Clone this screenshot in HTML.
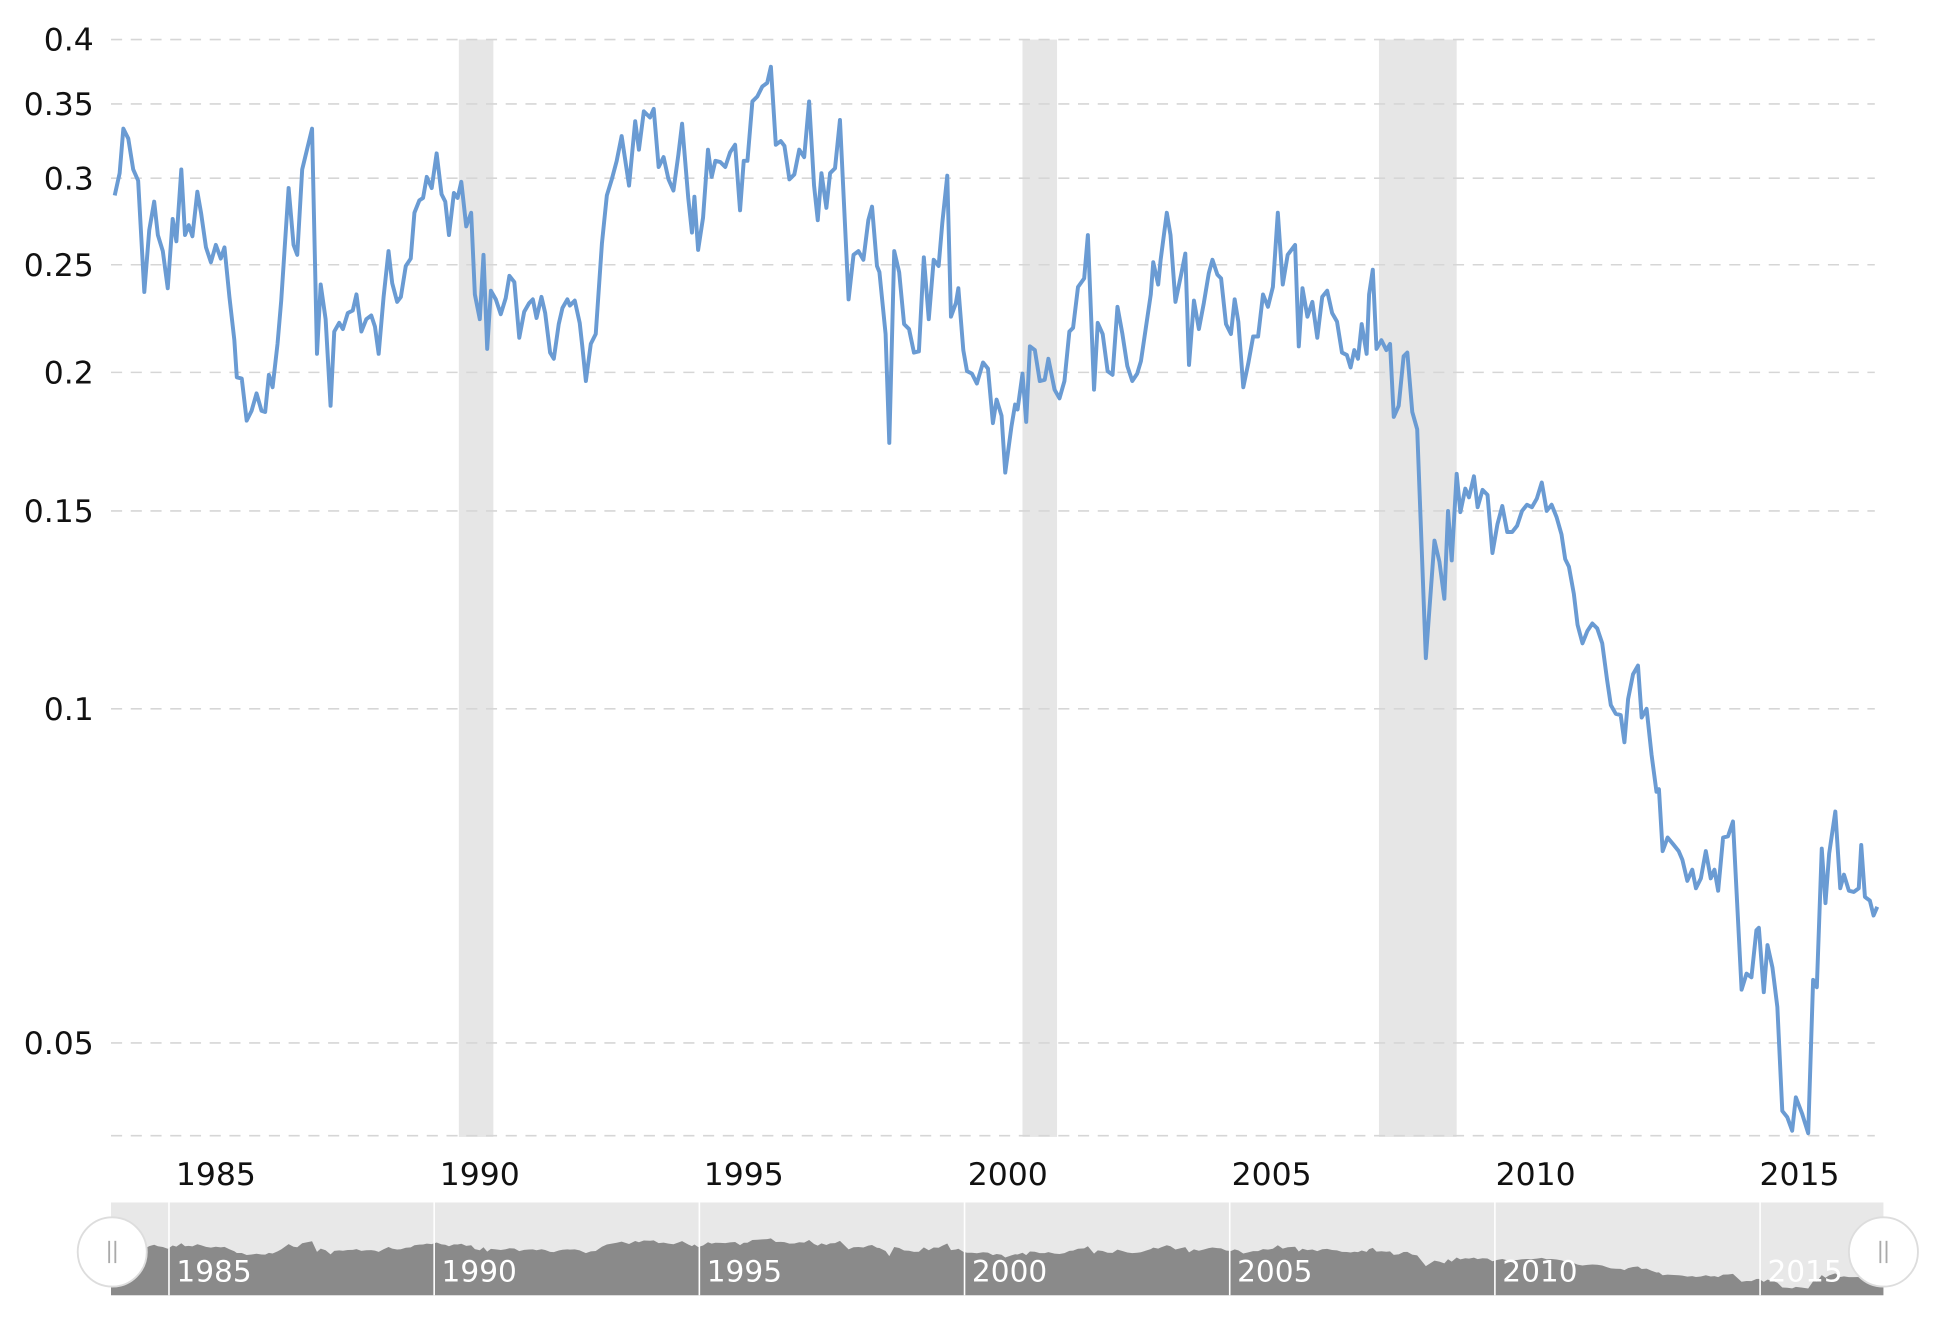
<!DOCTYPE html>
<html><head><meta charset="utf-8"><style>
html,body{margin:0;padding:0;background:#fff;}
svg{display:block;}
text{font-family:"DejaVu Sans","Liberation Sans",sans-serif;}
</style></head><body>
<svg width="1934" height="1320" viewBox="0 0 1568 1067" preserveAspectRatio="none" xmlns="http://www.w3.org/2000/svg">
<defs>
<polyline id="s" points="93,158 97,140 100,104 104,112 108,137 112,146 117,236 121,186 125,163 128,190 132,203 136,233 140,177 143,195 147,137 150,190 153,182 156,191 160,155 163,172 167,200 171,212 175,198 179,209 182,200 186,240 190,275 192,305 196,306 200,340 204,332 208,318 212,332 215,333 218,303 221,313 225,278 228,243 234,152 238,198 241,206 245,137 253,104 257,286 260,230 264,258 268,328 271,268 275,261 278,266 282,253 286,251 289,238 293,268 297,258 301,255 304,264 307,286 311,240 315,203 318,229 322,244 325,240 329,215 333,209 336,172 340,162 343,160 346,143 350,152 354,124 358,157 361,163 364,190 368,156 371,160 374,147 378,183 382,172 385,238 389,258 392,206 395,282 398,235 402,242 406,254 410,241 413,223 417,228 421,273 425,252 429,245 432,242 435,257 439,240 442,253 446,285 449,290 453,262 456,249 460,242 462,247 466,243 470,261 472,279 475,308 479,278 483,270 488,197 492,158 496,145 500,130 504,110 510,150 515,98 518,121 522,90 527,95 530,88 534,135 538,127 542,145 546,154 550,125 553,100 558,160 561,188 563,159 566,202 570,176 574,121 577,143 580,130 584,131 588,135 592,123 596,117 600,170 603,130 606,130 610,82 614,78 618,70 622,67 625,54 629,117 633,114 636,118 640,145 644,141 648,121 652,127 656,82 660,150 663,178 666,140 670,168 673,140 677,136 681,97 688,242 692,206 696,203 700,210 704,178 707,167 711,215 713,220 718,270 721,358 725,203 729,220 733,262 737,266 741,285 745,284 749,208 753,258 757,210 761,215 764,180 768,142 771,256 775,245 777,233 781,283 784,300 788,302 792,310 797,293 801,298 805,342 808,323 812,336 815,382 820,345 823,327 825,331 829,302 832,341 835,280 839,283 843,308 847,307 850,290 855,315 859,322 863,308 867,268 870,265 874,232 879,225 882,190 887,315 890,261 894,270 898,300 902,303 906,248 910,270 914,296 918,308 922,302 925,292 929,265 933,238 935,212 939,230 941,210 946,172 949,190 953,244 958,220 961,205 964,295 968,243 972,266 976,245 980,221 983,210 987,222 990,225 994,262 998,270 1001,242 1004,260 1008,313 1012,294 1016,272 1020,272 1024,238 1028,248 1032,232 1036,172 1040,230 1044,206 1050,198 1053,280 1056,233 1060,256 1064,244 1068,273 1072,240 1076,235 1080,253 1084,260 1088,285 1092,287 1095,297 1098,283 1101,290 1104,262 1108,286 1110,238 1113,218 1116,282 1120,275 1124,283 1127,278 1130,337 1134,328 1138,288 1141,285 1145,333 1149,347 1156,532 1163,437 1167,454 1171,484 1174,413 1177,453 1181,383 1184,414 1188,395 1191,402 1195,385 1198,410 1202,396 1206,400 1210,447 1214,424 1218,409 1222,430 1226,430 1230,425 1234,413 1238,408 1242,410 1246,403 1250,390 1254,413 1258,408 1262,418 1266,432 1269,452 1272,458 1276,480 1279,505 1283,520 1287,510 1291,504 1295,508 1299,520 1303,550 1306,570 1310,577 1314,578 1317,600 1320,565 1324,545 1328,538 1331,580 1335,573 1339,610 1343,640 1345,638 1348,688 1352,677 1357,683 1361,688 1364,695 1368,712 1372,703 1375,718 1379,710 1383,688 1387,710 1390,703 1393,720 1397,677 1401,676 1405,664 1412,800 1416,787 1420,790 1424,752 1426,750 1430,802 1433,764 1437,782 1441,814 1445,898 1449,903 1453,914 1456,887 1461,900 1466,916 1470,792 1473,798 1477,686 1480,730 1483,690 1488,656 1492,718 1495,707 1499,720 1503,721 1507,718 1509,683 1512,725 1516,728 1519,740 1522,733"/>
</defs>
<rect x="372" y="32" width="28" height="887" fill="#e6e6e6"/>
<rect x="829" y="32" width="28" height="887" fill="#e6e6e6"/>
<rect x="1118" y="32" width="63" height="887" fill="#e6e6e6"/>
<g stroke="#d6d6d6" stroke-width="1.3" stroke-dasharray="9,7">
<line x1="90" x2="1520" y1="32" y2="32"/>
<line x1="90" x2="1520" y1="84" y2="84"/>
<line x1="90" x2="1520" y1="144" y2="144"/>
<line x1="90" x2="1520" y1="214" y2="214"/>
<line x1="90" x2="1520" y1="301" y2="301"/>
<line x1="90" x2="1520" y1="413" y2="413"/>
<line x1="90" x2="1520" y1="573" y2="573"/>
<line x1="90" x2="1520" y1="843" y2="843"/>
<line x1="90" x2="1520" y1="918" y2="918"/>
</g>
<g font-size="25.5" fill="#111" text-anchor="end">
<text x="76" y="41">0.4</text>
<text x="76" y="93">0.35</text>
<text x="76" y="153">0.3</text>
<text x="76" y="223">0.25</text>
<text x="76" y="310">0.2</text>
<text x="76" y="422">0.15</text>
<text x="76" y="582">0.1</text>
<text x="76" y="852">0.05</text>
</g>
<g font-size="25.5" fill="#111" text-anchor="middle">
<text x="175" y="958">1985</text>
<text x="389" y="958">1990</text>
<text x="603" y="958">1995</text>
<text x="817" y="958">2000</text>
<text x="1031" y="958">2005</text>
<text x="1245" y="958">2010</text>
<text x="1459" y="958">2015</text>
</g>
<use href="#s" fill="none" stroke="#6a9bd3" stroke-width="3.2" stroke-linejoin="round"/>
<rect x="90" y="972" width="1437" height="75" fill="#e8e8e8"/>
<g transform="translate(0,1000) scale(1,0.047) translate(0,-32)">
<polygon fill="#8a8a8a" points="90,1032 90,158 93,158 97,140 100,104 104,112 108,137 112,146 117,236 121,186 125,163 128,190 132,203 136,233 140,177 143,195 147,137 150,190 153,182 156,191 160,155 163,172 167,200 171,212 175,198 179,209 182,200 186,240 190,275 192,305 196,306 200,340 204,332 208,318 212,332 215,333 218,303 221,313 225,278 228,243 234,152 238,198 241,206 245,137 253,104 257,286 260,230 264,258 268,328 271,268 275,261 278,266 282,253 286,251 289,238 293,268 297,258 301,255 304,264 307,286 311,240 315,203 318,229 322,244 325,240 329,215 333,209 336,172 340,162 343,160 346,143 350,152 354,124 358,157 361,163 364,190 368,156 371,160 374,147 378,183 382,172 385,238 389,258 392,206 395,282 398,235 402,242 406,254 410,241 413,223 417,228 421,273 425,252 429,245 432,242 435,257 439,240 442,253 446,285 449,290 453,262 456,249 460,242 462,247 466,243 470,261 472,279 475,308 479,278 483,270 488,197 492,158 496,145 500,130 504,110 510,150 515,98 518,121 522,90 527,95 530,88 534,135 538,127 542,145 546,154 550,125 553,100 558,160 561,188 563,159 566,202 570,176 574,121 577,143 580,130 584,131 588,135 592,123 596,117 600,170 603,130 606,130 610,82 614,78 618,70 622,67 625,54 629,117 633,114 636,118 640,145 644,141 648,121 652,127 656,82 660,150 663,178 666,140 670,168 673,140 677,136 681,97 688,242 692,206 696,203 700,210 704,178 707,167 711,215 713,220 718,270 721,358 725,203 729,220 733,262 737,266 741,285 745,284 749,208 753,258 757,210 761,215 764,180 768,142 771,256 775,245 777,233 781,283 784,300 788,302 792,310 797,293 801,298 805,342 808,323 812,336 815,382 820,345 823,327 825,331 829,302 832,341 835,280 839,283 843,308 847,307 850,290 855,315 859,322 863,308 867,268 870,265 874,232 879,225 882,190 887,315 890,261 894,270 898,300 902,303 906,248 910,270 914,296 918,308 922,302 925,292 929,265 933,238 935,212 939,230 941,210 946,172 949,190 953,244 958,220 961,205 964,295 968,243 972,266 976,245 980,221 983,210 987,222 990,225 994,262 998,270 1001,242 1004,260 1008,313 1012,294 1016,272 1020,272 1024,238 1028,248 1032,232 1036,172 1040,230 1044,206 1050,198 1053,280 1056,233 1060,256 1064,244 1068,273 1072,240 1076,235 1080,253 1084,260 1088,285 1092,287 1095,297 1098,283 1101,290 1104,262 1108,286 1110,238 1113,218 1116,282 1120,275 1124,283 1127,278 1130,337 1134,328 1138,288 1141,285 1145,333 1149,347 1156,532 1163,437 1167,454 1171,484 1174,413 1177,453 1181,383 1184,414 1188,395 1191,402 1195,385 1198,410 1202,396 1206,400 1210,447 1214,424 1218,409 1222,430 1226,430 1230,425 1234,413 1238,408 1242,410 1246,403 1250,390 1254,413 1258,408 1262,418 1266,432 1269,452 1272,458 1276,480 1279,505 1283,520 1287,510 1291,504 1295,508 1299,520 1303,550 1306,570 1310,577 1314,578 1317,600 1320,565 1324,545 1328,538 1331,580 1335,573 1339,610 1343,640 1345,638 1348,688 1352,677 1357,683 1361,688 1364,695 1368,712 1372,703 1375,718 1379,710 1383,688 1387,710 1390,703 1393,720 1397,677 1401,676 1405,664 1412,800 1416,787 1420,790 1424,752 1426,750 1430,802 1433,764 1437,782 1441,814 1445,898 1449,903 1453,914 1456,887 1461,900 1466,916 1470,792 1473,798 1477,686 1480,730 1483,690 1488,656 1492,718 1495,707 1499,720 1503,721 1507,718 1509,683 1512,725 1516,728 1519,740 1522,733 1527,733 1527,1032"/>
</g>
<g stroke="#fff" stroke-width="1.3">
<line x1="137" x2="137" y1="972" y2="1047"/>
<line x1="352" x2="352" y1="972" y2="1047"/>
<line x1="567" x2="567" y1="972" y2="1047"/>
<line x1="782" x2="782" y1="972" y2="1047"/>
<line x1="997" x2="997" y1="972" y2="1047"/>
<line x1="1212" x2="1212" y1="972" y2="1047"/>
<line x1="1427" x2="1427" y1="972" y2="1047"/>
</g>
<g font-size="24" fill="#fff">
<text x="143" y="1036">1985</text>
<text x="358" y="1036">1990</text>
<text x="573" y="1036">1995</text>
<text x="788" y="1036">2000</text>
<text x="1003" y="1036">2005</text>
<text x="1218" y="1036">2010</text>
<text x="1433" y="1036">2015</text>
</g>
<circle cx="91" cy="1012" r="28" fill="#fff" stroke="#ddd" stroke-width="1.5"/>
<circle cx="1527" cy="1012" r="28" fill="#fff" stroke="#ddd" stroke-width="1.5"/>
<g stroke="#aaa" stroke-width="1.5">
<line x1="88.5" x2="88.5" y1="1003" y2="1021"/><line x1="93.5" x2="93.5" y1="1003" y2="1021"/>
<line x1="1524.5" x2="1524.5" y1="1003" y2="1021"/><line x1="1529.5" x2="1529.5" y1="1003" y2="1021"/>
</g>
</svg>
</body></html>
